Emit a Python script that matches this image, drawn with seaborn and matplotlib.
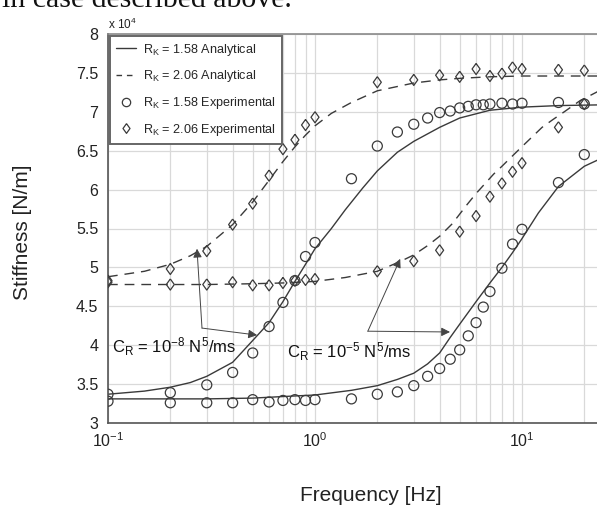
import numpy as np
import pandas as pd
import seaborn as sns
import matplotlib.pyplot as plt
from matplotlib.lines import Line2D
from matplotlib.ticker import LogLocator, NullFormatter, NullLocator, FixedLocator

# stiffness values are in units of 10^4 N/m (as on the axis)

# experimental points, R_K = 1.58 (circles)
freq_circ = [0.1, 0.2, 0.3, 0.4, 0.5, 0.6, 0.7, 0.8, 0.9, 1.0,
             1.5, 2, 2.5, 3, 3.5, 4, 4.5, 5, 5.5, 6, 6.5, 7, 8, 9, 10, 15, 20]
circ_cr8 = [3.37, 3.39, 3.49, 3.65, 3.90, 4.24, 4.55, 4.83, 5.14, 5.32,
            6.14, 6.56, 6.74, 6.84, 6.92, 6.99, 7.01, 7.05, 7.07, 7.09, 7.09, 7.10, 7.11, 7.10, 7.11, 7.12, 7.10]
circ_cr5 = [3.28, 3.26, 3.26, 3.26, 3.30, 3.27, 3.29, 3.30, 3.29, 3.30,
            3.31, 3.37, 3.40, 3.48, 3.60, 3.70, 3.82, 3.94, 4.12, 4.29, 4.49, 4.69, 4.99, 5.30, 5.49, 6.09, 6.45]

# experimental points, R_K = 2.06 (diamonds)
freq_diam = [0.1, 0.2, 0.3, 0.4, 0.5, 0.6, 0.7, 0.8, 0.9, 1.0,
             2, 3, 4, 5, 6, 7, 8, 9, 10, 15, 20]
diam_cr8 = [4.83, 4.98, 5.21, 5.55, 5.82, 6.18, 6.52, 6.64, 6.83, 6.93,
            7.38, 7.41, 7.47, 7.45, 7.55, 7.46, 7.49, 7.57, 7.55, 7.54, 7.53]
diam_cr5 = [4.81, 4.78, 4.78, 4.81, 4.77, 4.77, 4.80, 4.83, 4.84, 4.85,
            4.95, 5.08, 5.22, 5.46, 5.66, 5.91, 6.08, 6.23, 6.34, 6.80, 7.10]

# analytical curves
freq_a = [0.1, 0.15, 0.2, 0.25, 0.3, 0.4, 0.5, 0.6, 0.7, 0.8, 0.9, 1.0, 1.2, 1.4, 1.7,
          2.0, 2.5, 3.0, 4.0, 5.0, 7.0, 10, 15, 25]
ana_158_cr8 = [3.37, 3.41, 3.46, 3.52, 3.60, 3.78, 4.06, 4.29, 4.56, 4.82, 5.04, 5.24, 5.50, 5.74, 6.02,
               6.24, 6.48, 6.62, 6.80, 6.92, 7.02, 7.06, 7.08, 7.09]
freq_b = [0.1, 0.3, 0.5, 0.7, 1.0, 1.5, 2.0, 2.5, 3.0, 3.5, 4.0, 4.5, 5.0, 6.0, 7.0, 8.0, 9.0,
          10, 12, 15, 20, 25]
ana_158_cr5 = [3.31, 3.31, 3.32, 3.34, 3.36, 3.42, 3.48, 3.56, 3.64, 3.76, 3.90, 4.10, 4.27, 4.56, 4.80,
               5.00, 5.19, 5.37, 5.70, 6.04, 6.30, 6.42]
freq_c = [0.1, 0.15, 0.2, 0.25, 0.3, 0.4, 0.5, 0.6, 0.7, 0.8, 0.9, 1.0, 1.2, 1.5, 2, 3, 4, 5, 7, 10, 25]
ana_206_cr8 = [4.88, 4.95, 5.04, 5.15, 5.27, 5.55, 5.84, 6.12, 6.36, 6.55, 6.70, 6.82, 6.98, 7.12,
               7.27, 7.37, 7.41, 7.43, 7.45, 7.46, 7.46]
freq_d = [0.1, 0.3, 0.5, 0.7, 1.0, 1.4, 2.0, 2.6, 3.0, 3.5, 4.0, 4.6, 5.4, 6.0, 7.3, 8.0, 9.8,
          12.5, 14.1, 16, 19, 24]
ana_206_cr5 = [4.78, 4.78, 4.79, 4.80, 4.82, 4.87, 4.95, 5.08, 5.16, 5.28, 5.40, 5.56, 5.80, 5.95,
               6.20, 6.30, 6.53, 6.80, 6.90, 7.00, 7.14, 7.28]

y_ticks = [3, 3.5, 4, 4.5, 5, 5.5, 6, 6.5, 7, 7.5, 8]

sns.set_style("white")
plt.rcParams['font.family'] = ['Liberation Sans', 'DejaVu Sans']
plt.rcParams['mathtext.fontset'] = 'custom'
plt.rcParams['mathtext.rm'] = 'Liberation Sans'
plt.rcParams['mathtext.it'] = 'Liberation Sans:italic'
plt.rcParams['mathtext.default'] = 'regular'

W, H = 597, 507
fig = plt.figure(figsize=(W / 100, H / 100), dpi=100)
ax = fig.add_axes([108 / W, (H - 423) / H, (W - 108) / W, (423 - 34) / H])

line_col = '#3a3a3a'
dash = (0, (7, 5))

sns.lineplot(x=freq_a, y=ana_158_cr8, ax=ax, color=line_col, lw=1.0, estimator=None, sort=False)
sns.lineplot(x=freq_b, y=ana_158_cr5, ax=ax, color=line_col, lw=1.0, estimator=None, sort=False)
sns.lineplot(x=freq_c, y=ana_206_cr8, ax=ax, color=line_col, lw=1.0, linestyle=dash, estimator=None, sort=False)
sns.lineplot(x=freq_d, y=ana_206_cr5, ax=ax, color=line_col, lw=1.0, linestyle=dash, estimator=None, sort=False)

diamond = [(0, 1), (0.72, 0), (0, -1), (-0.72, 0), (0, 1)]
for yy in (circ_cr8, circ_cr5):
    sns.scatterplot(x=freq_circ, y=yy, ax=ax, marker='o', s=52, facecolor='none',
                    edgecolor=line_col, linewidth=0.9, zorder=3)
for yy in (diam_cr8, diam_cr5):
    sns.scatterplot(x=freq_diam, y=yy, ax=ax, marker=diamond, s=64, facecolor='none',
                    edgecolor=line_col, linewidth=0.9, zorder=3)

ax.set_xscale('log')
ax.set_xlim(0.1, 10 ** (1 + 75 / 207))
ax.set_ylim(3, 8)
ax.yaxis.set_major_locator(FixedLocator(y_ticks))
ax.set_yticklabels(['%g' % v for v in y_ticks])
ax.yaxis.set_minor_locator(NullLocator())
ax.xaxis.set_minor_locator(LogLocator(base=10, subs=np.arange(2, 10)))
ax.xaxis.set_minor_formatter(NullFormatter())
ax.grid(True, which='both', color='#d9d9d9', lw=0.9)
ax.set_axisbelow(True)
ax.tick_params(axis='both', which='both', direction='in', length=0, labelsize=11.5, colors='#222222')
ax.tick_params(axis='x', pad=6)
ax.tick_params(axis='y', pad=7)

for s in ('left', 'bottom'):
    ax.spines[s].set_color('#555555')
    ax.spines[s].set_linewidth(1.2)
ax.spines['top'].set_color('#8a8a8a')
ax.spines['top'].set_linewidth(1.2)
ax.spines['right'].set_visible(False)

ax.set_xlabel('Frequency [Hz]', fontsize=15, color='#222222')
ax.xaxis.set_label_coords((371 - 108) / 489, (423 - 486) / 389)
ax.set_ylabel('')
fig.text(23 / W, 1 - 232 / H, 'Stiffness [N/m]', rotation=90, ha='center', va='center',
         fontsize=15, color='#222222')
fig.text(108 / W, 1 - 29 / H, r'x 10$^4$', fontsize=8.5, va='baseline', color='#222222')

# cut-off text from the page above the figure (only its lower half is in view)
fig.text(2 / W, 1 - 7 / H, 'in case described above.', family='Liberation Serif',
         fontsize=21.5, va='baseline', color='#111111')

handles = [
    Line2D([], [], color=line_col, lw=1.0),
    Line2D([], [], color=line_col, lw=1.0, linestyle=(0, (4, 3.5))),
    Line2D([], [], color=line_col, marker='o', ms=6, mfc='none', mew=0.9, linestyle='none'),
    Line2D([], [], color=line_col, marker=diamond, ms=7, mfc='none', mew=0.9, linestyle='none'),
]
labels = [r'R$_K$ = 1.58 Analytical', r'R$_K$ = 2.06 Analytical',
          r'R$_K$ = 1.58 Experimental', r'R$_K$ = 2.06 Experimental']
leg = ax.legend(handles, labels, loc='upper left', bbox_to_anchor=(2 / 489, 1 - 2 / 389),
                borderaxespad=0, fontsize=9.1, handlelength=1.6, handletextpad=0.6,
                labelspacing=0.85, borderpad=0.45, fancybox=False, framealpha=1)
leg.get_frame().set_edgecolor('#666666')
leg.get_frame().set_linewidth(1.4)

arrow = dict(arrowstyle='-|>', color='#444444', lw=0.7, mutation_scale=13,
             shrinkA=0, shrinkB=0, facecolor='black')
ax.annotate('', xy=(0.269, 5.24), xytext=(0.2845, 4.22), arrowprops=arrow)
ax.annotate('', xy=(0.525, 4.13), xytext=(0.2845, 4.22), arrowprops=arrow)
ax.annotate('', xy=(2.58, 5.11), xytext=(1.80, 4.18), arrowprops=arrow)
ax.annotate('', xy=(4.49, 4.17), xytext=(1.80, 4.18), arrowprops=arrow)

ax.text(0.1045, 3.90, r'C$_R$ = 10$^{-8}$ N$^5$/ms', fontsize=12, va='baseline', color='#111111')
ax.text(0.732, 3.84, r'C$_R$ = 10$^{-5}$ N$^5$/ms', fontsize=12, va='baseline', color='#111111')

fig.savefig('out.png', dpi=100)
